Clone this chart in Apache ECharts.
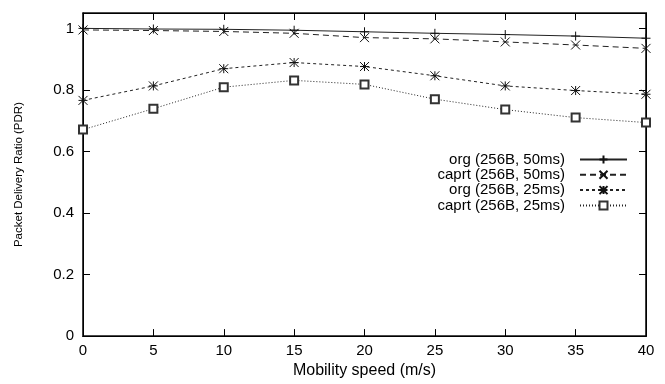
<!DOCTYPE html>
<html>
<head>
<meta charset="utf-8">
<script src="https://cdn.jsdelivr.net/npm/echarts@6/dist/echarts.min.js"></script>
<style>
  html, body { margin: 0; padding: 0; background: #fff; }
  #main { width: 665px; height: 384px; }
</style>
</head>
<body>
<div id="main"></div>
<script>
var speeds = [0, 5, 10, 15, 20, 25, 30, 35, 40];
var seriesNames = ['org (256B, 50ms)', 'caprt (256B, 50ms)', 'org (256B, 25ms)', 'caprt (256B, 25ms)'];
var org50 = [1.0, 0.998, 0.997, 0.994, 0.989, 0.984, 0.980, 0.975, 0.968];
var caprt50 = [0.995, 0.993, 0.990, 0.984, 0.970, 0.966, 0.956, 0.946, 0.935];
var org25 = [0.766, 0.813, 0.869, 0.889, 0.876, 0.846, 0.813, 0.798, 0.786];
var caprt25 = [0.671, 0.739, 0.809, 0.831, 0.818, 0.770, 0.736, 0.710, 0.694];
var yTicks = [0, 0.2, 0.4, 0.6, 0.8, 1];

var myChart = echarts.init(document.getElementById('main'));
var font = 'Liberation Sans, Arial, sans-serif';

// gnuplot-like point glyphs
var plusSym = 'path://M5,0L5,10M0,5L10,5';
var crossSym = 'path://M0,0L10,10M10,0L0,10';
var starSym = 'path://M5,0L5,10M0,5L10,5M0,0L10,10M10,0L0,10';

function pairs(vals) {
    var res = [];
    for (var i = 0; i < vals.length; i++) {
        res.push([speeds[i], vals[i]]);
    }
    return res;
}

function mkSeries(name, vals, sym, dash) {
    var sq = sym === 'emptyRect';
    return {
        name: name,
        type: 'line',
        data: pairs(vals),
        symbol: sym,
        symbolSize: sq ? 8 : 9,
        showSymbol: true,
        animation: false,
        lineStyle: { color: '#222', width: 1, type: dash },
        itemStyle: { color: sq ? '#333' : '#111', borderColor: sq ? '#333' : '#111', borderWidth: 1 }
    };
}

function mkAxis(extra) {
    return Object.assign({
        show: true,
        gridIndex: 0,
        axisLine: { show: true, onZero: false, lineStyle: { color: '#000', width: 1 } },
        axisTick: { show: true, inside: true, length: 7, lineStyle: { color: '#000', width: 1 } },
        splitLine: { show: false }
    }, extra);
}

var option = {
    backgroundColor: '#fff',
    animation: false,
    grid: { left: 83, right: 19, top: 13, bottom: 47, show: true, backgroundColor: 'transparent', borderColor: '#111', borderWidth: 1.6 },
    legend: {
        orient: 'vertical',
        align: 'right',
        right: 32,
        top: 147,
        itemWidth: 47,
        itemHeight: 10,
        itemGap: 0.3,
        textStyle: {
            fontFamily: font, fontSize: 15, lineHeight: 14, color: '#000',
            width: 150, align: 'right', padding: [0, 10, 0, 0]
        },
        data: seriesNames
    },
    xAxis: [
        mkAxis({
            type: 'value', min: 0, max: 40, interval: 5, position: 'bottom',
            name: 'Mobility speed (m/s)', nameLocation: 'middle', nameGap: 23,
            nameTextStyle: { fontFamily: font, fontSize: 16, color: '#000' },
            axisLabel: { fontFamily: font, fontSize: 15, color: '#000', margin: 7 }
        }),
        mkAxis({
            type: 'value', min: 0, max: 40, interval: 5, position: 'top',
            axisLabel: { show: false }
        })
    ],
    yAxis: [
        mkAxis({
            type: 'value', min: 0, max: 1.05, interval: 0.2, position: 'left',
            name: 'Packet Delivery Ratio (PDR)', nameLocation: 'middle', nameGap: 58,
            nameTextStyle: { fontFamily: font, fontSize: 11.5, color: '#000' },
            axisLabel: {
                fontFamily: font, fontSize: 15, color: '#000', margin: 9,
                formatter: function (v) {
                    for (var i = 0; i < yTicks.length; i++) {
                        if (Math.abs(v - yTicks[i]) < 1e-6) return String(yTicks[i]);
                    }
                    return '';
                }
            }
        }),
        mkAxis({
            type: 'value', min: 0, max: 1.05, interval: 0.2, position: 'right',
            axisLabel: { show: false }
        })
    ],
    series: [
        mkSeries(seriesNames[0], org50, plusSym, 'solid'),
        mkSeries(seriesNames[1], caprt50, crossSym, [6, 4]),
        mkSeries(seriesNames[2], org25, starSym, [3, 3]),
        mkSeries(seriesNames[3], caprt25, 'emptyRect', [1, 2]),
        // invisible helper series so the mirrored top/right axes get drawn with their ticks
        {
            type: 'line', xAxisIndex: 1, yAxisIndex: 1, silent: true,
            data: pairs(org50), showSymbol: false, lineStyle: { opacity: 0 }
        }
    ]
};
myChart.setOption(option);
</script>
</body>
</html>
